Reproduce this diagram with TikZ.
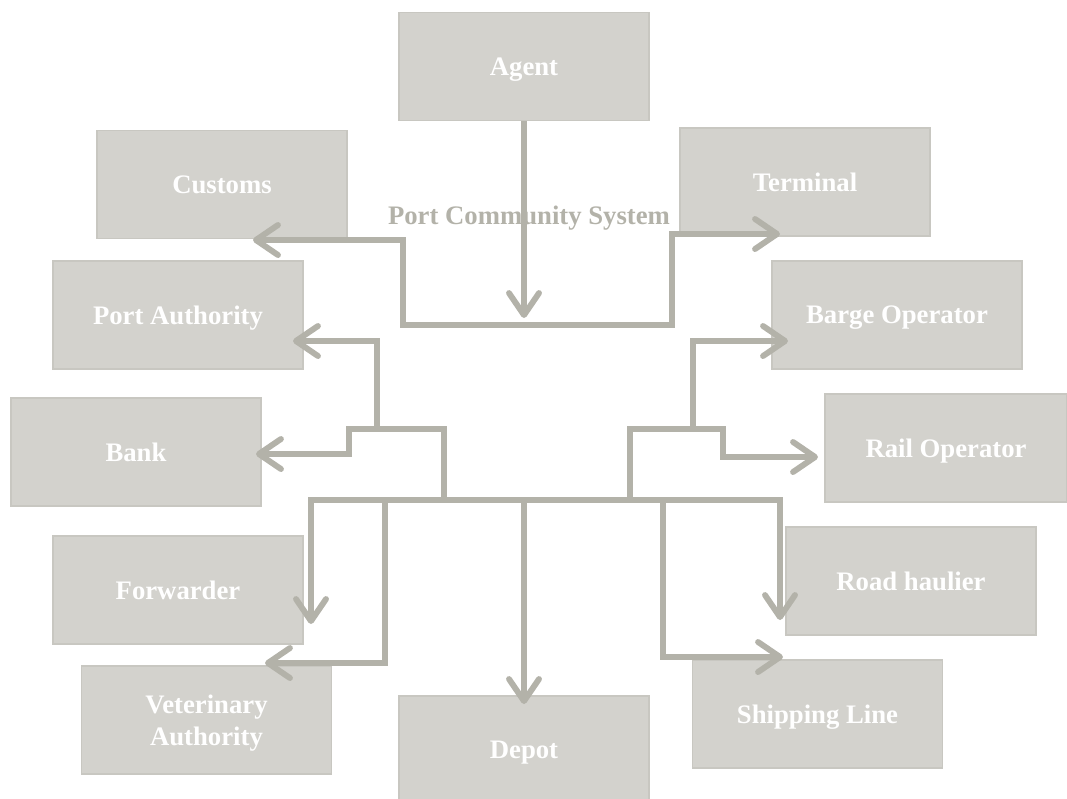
\documentclass[tikz,border=0pt]{standalone}
\usepackage{fontspec}
\setmainfont{Liberation Serif}
\usetikzlibrary{arrows.meta}
\usetikzlibrary{positioning}
\definecolor{boxfill}{HTML}{D3D2CD}
\definecolor{boxline}{HTML}{C8C7C1}
\definecolor{linkgray}{HTML}{B3B2A9}
\tikzset{->/.style = {-{Straight Barb[length=5.5mm, width=7.5mm, round]},
                      line width = 4.2pt, color = linkgray}}
\tikzset{box/.style = {draw = boxline, line width = 1pt, fill = boxfill, text = white,
                       font = \fontsize{19}{23}\selectfont\bfseries, align = center,
                       minimum width = 6.25cm, minimum height = 2.7cm, inner sep = 0,
                       text depth = 0pt}}

\begin{document}
\begin{tikzpicture}[x = 0.025cm, y = -0.025cm]
      \useasboundingbox (0, 0) rectangle (1067, 798);

      \node [box] (agent) at (524, 66.5) {Agent};
      \node [box] (customs) at (222, 184.5) {Customs};
      \node [box] (terminal) at (805, 182) {Terminal};
      \node [box] (portauth) at (178, 315) {Port Authority};
      \node [box] (barge) at (897, 315) {Barge Operator};
      \node [box] (bank) at (136, 452) {Bank};
      \node [box, minimum width = 6.05cm] (rail) at (946, 448) {Rail Operator};
      \node [box] (forwarder) at (178, 590) {Forwarder};
      \node [box] (road) at (911, 581) {Road haulier};
      \node [box] (vet) at (206.5, 720) {Veterinary\\Authority};
      \node [box] (depot) at (524, 750) {Depot};
      \node [box] (shipping) at (817.5, 714) {Shipping Line};
      \node [text = linkgray, font = \fontsize{19}{23}\selectfont\bfseries] (pcs) at (529, 218) {Port Community System};

      % junctions of the system
      \coordinate (loopL) at (403, 325);  \coordinate (loopR) at (672, 325);
      \coordinate (busL) at (311, 500);   \coordinate (busR) at (780, 500);
      \coordinate (leftJ) at (444, 500);  \coordinate (leftS) at (349, 429);  \coordinate (leftU) at (377, 429);
      \coordinate (rightJ) at (630, 500); \coordinate (rightS) at (723, 429); \coordinate (rightU) at (693, 429);
      \coordinate (vetJ) at (385, 502);   \coordinate (depotJ) at (524, 500); \coordinate (shipJ) at (663, 500);

      % arrow ends
      \coordinate (agentT) at (524, 318);
      \coordinate (customsT) at (253, 240);  \coordinate (terminalT) at (780, 234);
      \coordinate (portauthT) at (293, 341); \coordinate (bargeT) at (788, 341);
      \coordinate (bankT) at (256, 454);     \coordinate (railT) at (818, 457);
      \coordinate (forwarderT) at (311, 624); \coordinate (roadT) at (780, 620);
      \coordinate (vetT) at (265, 663);      \coordinate (shipT) at (783, 657);
      \coordinate (depotT) at (524, 704);

      \draw [->] (agent) -- (agentT);
      \draw [->] (loopR) -- (loopL) |- (customsT);
      \draw [->] (loopL) -- (loopR) |- (terminalT);

      \draw [->] (leftJ) |- (leftS) |- (bankT);
      \draw [->] (leftU) |- (portauthT);
      \draw [->] (rightJ) |- (rightS) |- (railT);
      \draw [->] (rightU) |- (bargeT);

      \draw [->] (busR) -- (busL) -- (forwarderT);
      \draw [->] (busL) -- (busR) -- (roadT);
      \draw [->] (vetJ) |- (vetT);
      \draw [->] (depotJ) -- (depotT);
      \draw [->] (shipJ) |- (shipT);
    \end{tikzpicture}
\end{document}
